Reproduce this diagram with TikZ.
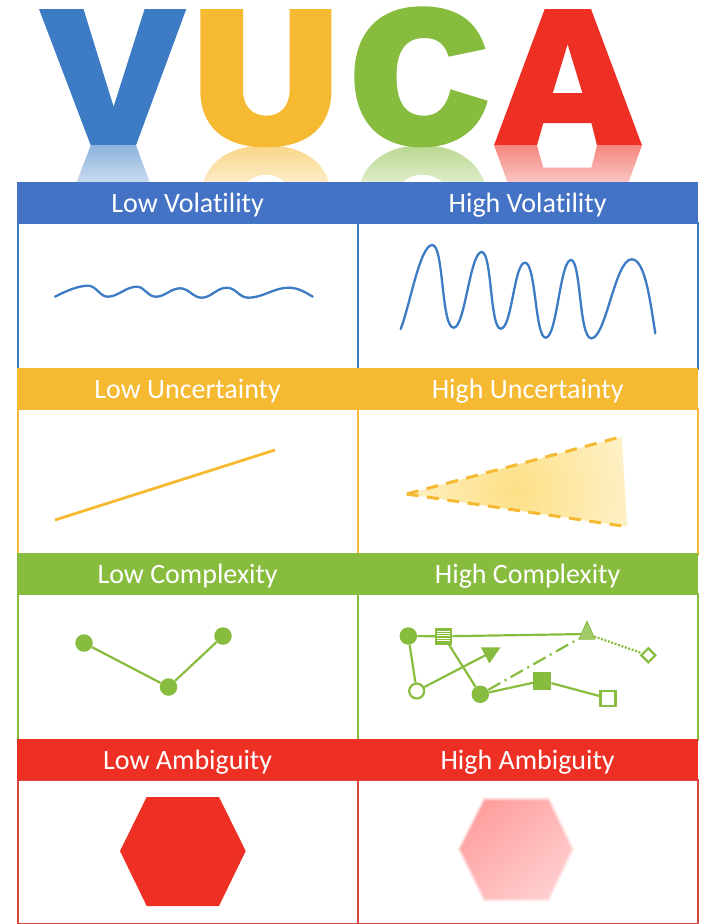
\documentclass[tikz,border=0pt]{standalone}
\usepackage{fontspec}
\setmainfont[Ligatures=NoCommon]{Carlito}
\usetikzlibrary{shapes.geometric,arrows.meta,fadings}
\definecolor{cV}{HTML}{3D7CC4}
\definecolor{cH}{HTML}{4472C4}
\definecolor{cU}{HTML}{F5B932}
\definecolor{cC}{HTML}{88BC3F}
\definecolor{cA}{HTML}{EE2F24}
\definecolor{cAb}{HTML}{D8453F}
\definecolor{triIn}{HTML}{FDDF85}
\definecolor{triOut}{HTML}{FEF3CF}
\definecolor{hexA}{HTML}{FF9898}
\definecolor{hexB}{HTML}{FFD6D6}
\tikzset{
 header/.style={fill=#1,draw=#1,line width=0.6pt,minimum width=340pt,minimum height=40pt,inner sep=0pt,text=white,font=\fontsize{28}{30}\selectfont,text height=26pt,text depth=6pt,anchor=north west},
 cell/.style={draw=#1,line width=2pt,fill=white,minimum width=340pt,minimum height=145.5pt,inner sep=0pt,anchor=north west},
 ln/.style={cC,line width=2.2pt},
 fdot/.style={circle,fill=cC,minimum size=17.5pt,inner sep=0pt},
 odot/.style={circle,fill=white,draw=cC,line width=2.2pt,minimum size=15pt,inner sep=0pt},
 sq/.style={rectangle,draw=cC,line width=2.2pt,minimum size=#1,inner sep=0pt},
 wave/.style={line width=2.3pt,line cap=round}
}
\tikzfading[name=reflfade,top color=transparent!42,bottom color=transparent!72]
\begin{document}
\begin{tikzpicture}[x=1pt,y=-1pt]
\useasboundingbox (0,0) rectangle (704,924);
% letters
\fill[cV] (39,9)--(83.5,9)--(113.6,106.7)--(144.6,9)--(186.3,9)--(136,145.3)--(90.7,145.3)--cycle;
\fill[cU,even odd rule] (200.3,9)--(243,9)--(243,90) .. controls (243,106) and (252,115.7) .. (266.3,115.7) .. controls (280.6,115.7) and (289.6,106) .. (289.6,90)--(289.6,9)--(331.4,9)--(331.4,90) .. controls (331.4,125) and (310,147.3) .. (266,147.3) .. controls (222,147.3) and (200.3,125) .. (200.3,90)--cycle;
\fill[cC] (485.4,49) .. controls (477,20) and (455,6.3) .. (422,6.3) .. controls (378,6.3) and (354.3,34) .. (354.3,76) .. controls (354.3,120) and (378,147.3) .. (422,147.3) .. controls (458,147.3) and (481,128) .. (487.6,100.7)--(450.4,89.3) .. controls (447,106) and (438,115.7) .. (424.3,115.7) .. controls (405,115.7) and (396.5,102) .. (396.5,76) .. controls (396.5,52) and (405,38) .. (424.3,38) .. controls (437,38) and (445,44) .. (448.6,56.7)--cycle;
\fill[cA,even odd rule] (544.7,9)--(591,9)--(642,145.3)--(597,145.3)--(591.4,123)--(543.3,123)--(537,145.3)--(494,145.3)--cycle (567.6,44.3)--(582.4,93)--(552.8,93)--cycle;
% reflections
\fill[cV,path fading=reflfade] (90.7,145.3)--(136,145.3)--(149.7,182)--(76.6,182)--cycle;
\fill[cU,path fading=reflfade] (203.4,182) .. controls (210,160) and (232,145.3) .. (266,145.3) .. controls (300,145.3) and (322,160) .. (329,182)--(285,182) .. controls (279,177) and (273,174.7) .. (266,174.7) .. controls (259,174.7) and (253,177) .. (247,182)--cycle;
\fill[cC,path fading=reflfade] (360.6,182) .. controls (368,160) and (390,145.3) .. (422,145.3) .. controls (455,145.3) and (476,160) .. (484.5,182)--(442,182) .. controls (436,177) and (430,174.7) .. (422.5,174.7) .. controls (415,174.7) and (409,177) .. (403,182)--cycle;
\fill[cA,path fading=reflfade] (494,145.3)--(537,145.3)--(543.3,167.7)--(591.4,167.7)--(597,145.3)--(642,145.3)--(628.6,182)--(507.4,182)--cycle;
% table
\node[cell=cV] (c1) at (17.3,222) {};
\node[cell=cV] (c2) at (357.3,222) {};
\node[cell=cU] (c3) at (17.3,408) {};
\node[cell=cU] (c4) at (357.3,408) {};
\node[cell=cC] (c5) at (17.3,593) {};
\node[cell=cC] (c6) at (357.3,593) {};
\node[cell=cAb,minimum height=144pt] (c7) at (17.3,779) {};
\node[cell=cAb,minimum height=144pt] (c8) at (357.3,779) {};
\node[header=cH] (h1) at (17.3,182) {Low Volatility};
\node[header=cH] (h2) at (357.3,182) {High Volatility};
\node[header=cU] (h3) at (17.3,368) {Low Uncertainty};
\node[header=cU] (h4) at (357.3,368) {High Uncertainty};
\node[header=cC] (h5) at (17.3,553) {Low Complexity};
\node[header=cC] (h6) at (357.3,553) {High Complexity};
\node[header=cA] (h7) at (17.3,739) {Low Ambiguity};
\node[header=cA] (h8) at (357.3,739) {High Ambiguity};
% low volatility
\draw[cV,wave] (55,296.7) .. controls (66,291) and (78,285.7) .. (88.3,285.7) .. controls (96,285.7) and (100,296.7) .. (107.7,296.7) .. controls (118,296.7) and (126,286.7) .. (136.7,286.7) .. controls (145,286.7) and (147,296.7) .. (156,296.7) .. controls (165,296.7) and (171,288.3) .. (180,288.3) .. controls (189,288.3) and (193,297.7) .. (201.7,297.7) .. controls (211,297.7) and (217,287.7) .. (226.7,287.7) .. controls (236,287.7) and (239,297.7) .. (248.3,297.7) .. controls (263,297.7) and (274,287.7) .. (288.3,287.7) .. controls (298,287.7) and (305,292) .. (312.7,296.7);
% high volatility
\draw[cV,wave] (400.7,329) .. controls (410,305) and (420,245) .. (432.3,245) .. controls (444,245) and (441,327.7) .. (453.7,327.7) .. controls (465,327.7) and (470,252) .. (481.7,252) .. controls (492,252) and (490,328.7) .. (500.7,328.7) .. controls (512,328.7) and (514,262.7) .. (525,262.7) .. controls (536,262.7) and (535,337.7) .. (545.7,337.7) .. controls (557,337.7) and (560,260) .. (571,260) .. controls (581,260) and (579,338.3) .. (591.3,338.3) .. controls (606,338.3) and (615,259.3) .. (631.7,259.3) .. controls (645,259.3) and (650,300) .. (655.3,333.3);
% low uncertainty
\coordinate (lu1) at (55,520);
\coordinate (lu2) at (275,450);
\draw[cU,line width=2.8pt] (lu1)--(lu2);
% high uncertainty
\begin{scope}
\clip (406.7,494)--(621.7,436.7)--(627.3,526.7)--cycle;
\shade[inner color=triIn,outer color=triOut] (385,355) rectangle (645,625);
\end{scope}
\coordinate (ht) at (406.7,494);
\coordinate (hr) at (621.7,436.7);
\coordinate (hb) at (627.3,526.7);
\draw[cU,line width=3pt,dash pattern=on 12pt off 8.5pt] (ht)--(hr);
\draw[cU,line width=3pt,dash pattern=on 12pt off 8.5pt] (ht)--(hb);
% low complexity
\node[fdot] (la) at (84,643) {};
\node[fdot] (lb) at (168.5,687) {};
\node[fdot] (lc) at (223,636) {};
\draw[ln] (la)--(lb)--(lc);
% high complexity
\node[sq=15pt,fill=white,path picture={\foreach \k in {-5.6,-3.2,...,7}{\draw[cC,line width=1.5pt] ([yshift=\k pt]path picture bounding box.west)--([yshift=\k pt]path picture bounding box.east);}}] (n2) at (443.7,636.3) {};
\node[fdot] (n1) at (408.3,636) {};
\node[isosceles triangle,isosceles triangle apex angle=48,shape border rotate=90,inner sep=0pt,minimum height=17.5pt,minimum width=16pt,draw=cC,line width=0.8pt,fill=cC!78!white] (n3) at (587,634) {};
\node[diamond,aspect=1,draw=cC,line width=2.2pt,fill=white,minimum size=15pt,inner sep=0pt] (n4) at (648.3,655.3) {};
\node[odot] (n5) at (416.7,691) {};
\node[fdot] (n6) at (480.3,694.3) {};
\node[sq=16pt,fill=cC] (n7) at (542.3,680.7) {};
\node[sq=15pt,fill=white] (n8) at (608,698.3) {};
\coordinate (tip) at (500.7,647.3);
\draw[ln] (n1)--(n2)--(n3);
\draw[ln] (n1)--(n5);
\draw[ln] (n2)--(n6);
\draw[ln,-{Triangle[length=17.5pt,width=17.5pt]}] (n5)--(tip);
\draw[ln] (n6)--(n7)--(n8);
\draw[ln,dash pattern=on 14pt off 5pt on 2pt off 5pt] (n6)--(n3);
\draw[cC,line width=2.2pt,dash pattern=on 2pt off 1.6pt] (n3)--(n4);
% low ambiguity
\fill[cA] (146.7,797)--(219,797)--(245.7,851)--(219,906)--(146.7,906)--(120,851)--cycle;
% high ambiguity
\begin{scope}
\clip (483,797)--(550,797)--(575,849)--(550,902)--(483,902)--(457,849)--cycle;
\shade[shading=axis,top color=hexA,bottom color=hexB,shading angle=40] (445,780) rectangle (590,920);
\end{scope}
\foreach \w/\o in {7/.25,5/.35,3/.45,1.5/.6}{
 \draw[white,line width=\w pt,opacity=\o] (483,797)--(550,797)--(575,849)--(550,902)--(483,902)--(457,849)--cycle;
}
\end{tikzpicture}
\end{document}
